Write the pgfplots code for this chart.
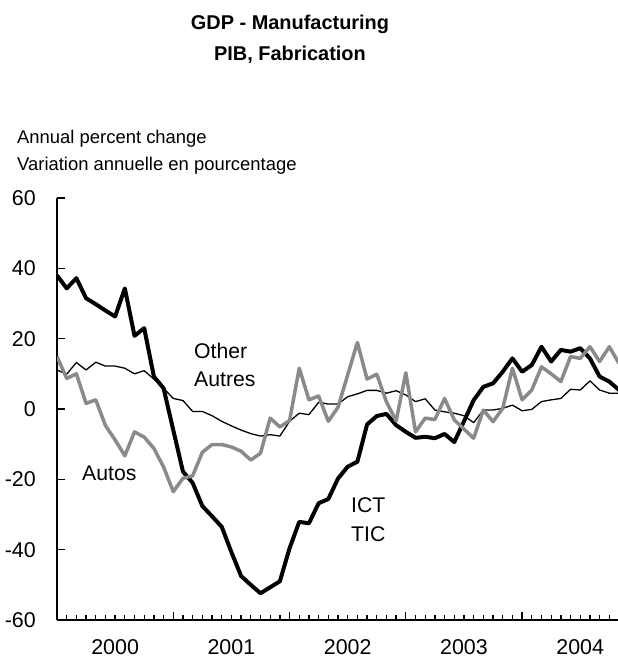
\documentclass[border=0pt]{standalone}
\usepackage{fontspec}
\setmainfont{Liberation Sans}
\usepackage{pgfplots}
\usepackage{pgfplotstable}
\pgfplotsset{compat=1.18}
\definecolor{autogray}{RGB}{138,138,138}

% month index: 0 = Jan 2000
\pgfplotstableread{
m ict other autos
0 38.0 11.1 14.9
1 34.3 9.9 8.7
2 37.2 13.2 10.0
3 31.5 11.1 1.6
4 29.8 13.3 2.6
5 28.0 12.2 -4.7
6 26.3 12.2 -8.8
7 34.3 11.6 -13.3
8 20.8 10.0 -6.5
9 23.0 10.9 -8.0
10 9.2 8.5 -11.2
11 5.9 5.9 -16.5
12 -6.0 3.0 -23.5
13 -17.8 2.4 -19.7
14 -21.0 -0.7 -19.0
15 -27.6 -0.7 -12.3
16 -30.5 -1.9 -10.1
17 -33.5 -3.5 -10.1
18 -40.7 -4.8 -10.8
19 -47.5 -6.0 -12.0
20 -50.0 -7.0 -14.5
21 -52.4 -7.7 -12.6
22 -50.7 -7.3 -2.6
23 -49.0 -7.7 -5.1
24 -39.6 -3.5 -3.3
25 -32.1 -1.2 11.6
26 -32.5 -1.6 2.6
27 -26.8 1.9 3.7
28 -25.6 1.4 -3.5
29 -19.8 1.4 0.5
30 -16.4 3.5 9.7
31 -15.0 4.3 18.9
32 -4.4 5.3 8.5
33 -2.0 5.3 9.9
34 -1.4 4.5 2.0
35 -4.6 5.2 -3.4
36 -6.5 4.0 10.3
37 -8.2 2.1 -6.5
38 -7.9 2.9 -2.6
39 -8.3 -0.3 -3.0
40 -7.1 -0.8 3.0
41 -9.4 -1.2 -3.1
42 -3.5 -1.9 -5.7
43 2.5 -3.9 -8.3
44 6.3 -0.3 -0.3
45 7.3 -0.3 -3.6
46 10.6 0.2 0.2
47 14.4 1.1 11.6
48 10.6 -0.5 2.6
49 12.5 -0.1 5.4
50 17.7 2.1 12.0
51 13.5 2.6 10.0
52 16.8 3.0 7.8
53 16.3 5.6 14.9
54 17.3 5.4 14.4
55 14.4 8.0 17.7
56 9.2 5.4 13.5
57 7.8 4.5 17.7
58 5.4 4.5 13.0
}\gdpdata

\begin{document}
\begin{tikzpicture}
\useasboundingbox (0,0) rectangle (618bp,659bp);
\begin{axis}[
  at={(57bp,39bp)}, anchor=south west,
  scale only axis, width=562bp, height=422bp,
  xmin=0, xmax=58, ymin=-60, ymax=60,
  axis x line=bottom, axis y line=left,
  axis line style={-, line width=1.6bp},
  xtick={12,24,36,48}, xticklabels={},
  minor xtick={1,...,58},
  extra x ticks={6,18,30,42,54},
  extra x tick labels={2000,2001,2002,2003,2004},
  extra x tick style={major tick length=0pt},
  ytick={-60,-40,...,60},
  tick align=inside,
  major tick length=8bp, minor tick length=4.5bp,
  tick style={black, line width=1.3bp},
  tick label style={font=\fontsize{21.5}{25}\selectfont, inner sep=0pt},
  yticklabel shift=21bp, xticklabel shift=19bp,
  /pgf/number format/assume math mode=true,
]
\addplot[black, line width=4bp, line join=round] table[x=m, y=ict] {\gdpdata};
\addplot[black, line width=1.3bp, line join=round] table[x=m, y=other] {\gdpdata};
\addplot[autogray, line width=3.5bp, line join=round] table[x=m, y=autos] {\gdpdata};
\end{axis}
\begin{scope}[every node/.style={inner sep=0pt, anchor=base}]
\node[font=\bfseries\fontsize{20}{24}\selectfont] at (290bp,629bp) {GDP - Manufacturing};
\node[font=\bfseries\fontsize{20}{24}\selectfont] at (290bp,598bp) {PIB, Fabrication};
\node[anchor=base west, font=\fontsize{18.5}{22}\selectfont] at (17bp,515bp) {Annual percent change};
\node[anchor=base west, font=\fontsize{18.5}{22}\selectfont] at (17bp,488bp) {Variation annuelle en pourcentage};
\node[anchor=base west, font=\fontsize{21.3}{25}\selectfont] at (194bp,300bp) {Other};
\node[anchor=base west, font=\fontsize{21.3}{25}\selectfont] at (194bp,272bp) {Autres};
\node[anchor=base west, font=\fontsize{21.3}{25}\selectfont] at (82bp,178bp) {Autos};
\node[anchor=base west, font=\fontsize{21.3}{25}\selectfont] at (351bp,146bp) {ICT};
\node[anchor=base west, font=\fontsize{21.3}{25}\selectfont] at (351bp,117bp) {TIC};
\end{scope}
\end{tikzpicture}
\end{document}
